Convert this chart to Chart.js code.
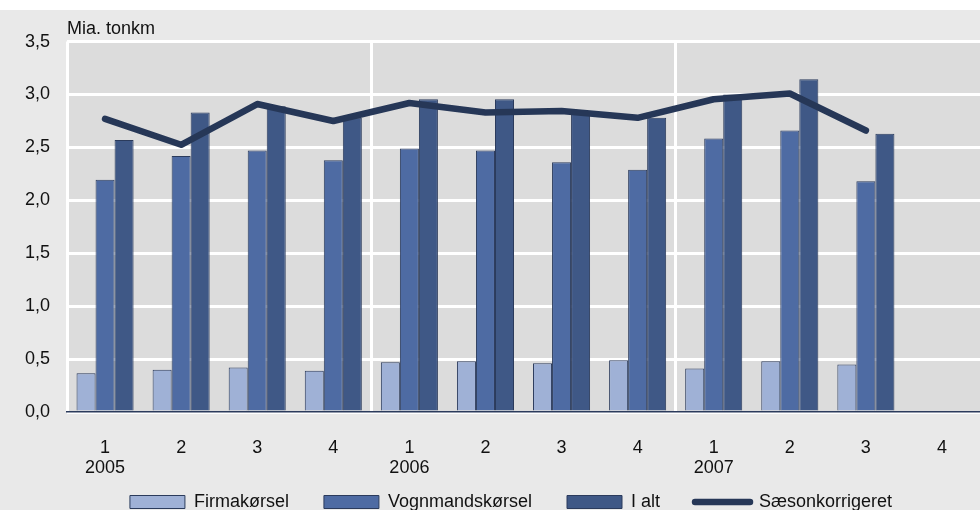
<!DOCTYPE html>
<html><head><meta charset="utf-8">
<script src="https://cdn.jsdelivr.net/npm/chart.js@4"></script>
<style>
html,body{margin:0;padding:0;background:#fff;overflow:hidden;width:980px;height:510px}
#wrap{position:absolute;left:0;top:10px;width:980px;height:511px;background:#e9e9e9}
</style></head><body>
<div id="wrap"><canvas id="c"></canvas></div>
<script>
const quarters = [["1","2005"],"2","3","4",["1","2006"],"2","3","4",["1","2007"],"2","3","4"];
const firmakorsel = [0.365,0.40,0.42,0.39,0.47,0.48,0.46,0.49,0.41,0.48,0.45,null];
const vognmandskorsel = [2.195,2.42,2.47,2.38,2.49,2.47,2.36,2.29,2.585,2.66,2.18,null];
const iAlt = [2.57,2.83,2.89,2.78,2.955,2.955,2.82,2.78,3.0,3.145,2.63,null];
const saesonkorrigeret = [2.77,2.525,2.91,2.75,2.92,2.83,2.845,2.78,2.955,3.01,2.66,null];
const yTicks = [0,0.5,1,1.5,2,2.5,3,3.5];

const FONT = "'Liberation Sans', Arial, sans-serif";
const edge = '#2b3b5c';
const lineCol = '#263757';
const GAP = '\u00a0\u00a0\u00a0\u00a0\u00a0';

const plotBg = {
  id:'plotBg',
  beforeDraw(chart){
    const {ctx, chartArea:a} = chart;
    ctx.save(); ctx.fillStyle='#dcdcdc';
    ctx.fillRect(a.left,a.top,a.right-a.left,a.bottom-a.top);
    ctx.restore();
  }
};

new Chart(document.getElementById('c'), {
  data:{
    labels: quarters,
    datasets:[
      {type:'bar', label:'Firmakørsel', data:firmakorsel, backgroundColor:'#9fb1d6', borderColor:edge, borderWidth:1, order:1},
      {type:'bar', label:'Vognmandskørsel', data:vognmandskorsel, backgroundColor:'#4e6ba3', borderColor:edge, borderWidth:1, order:1},
      {type:'bar', label:'I alt', data:iAlt, backgroundColor:'#3f5886', borderColor:edge, borderWidth:1, order:1},
      {type:'line', label:'Sæsonkorrigeret', data:saesonkorrigeret, borderColor:lineCol, backgroundColor:lineCol, borderWidth:6.5, pointRadius:0, tension:0, borderCapStyle:'round', borderJoinStyle:'round', order:0}
    ]
  },
  options:{
    responsive:true, maintainAspectRatio:false, animation:false,
    layout:{padding:{left:8,right:0,top:0,bottom:0}},
    datasets:{bar:{barPercentage:1, categoryPercentage:0.75}},
    plugins:{
      tooltip:{enabled:false},
      title:{display:true, text:'Mia. tonkm', align:'start', fullSize:false, color:'#111',
        font:{family:FONT,size:18,weight:'normal'}, padding:{top:8,bottom:2}},
      legend:{position:'bottom', align:'center', fullSize:false,
        labels:{color:'#111', font:{family:FONT,size:18}, boxWidth:55, boxHeight:13, padding:10,
          usePointStyle:true, pointStyleWidth:55,
          sort:(a,b)=>a.datasetIndex-b.datasetIndex,
          generateLabels(chart){
            const items = Chart.defaults.plugins.legend.labels.generateLabels(chart);
            items.forEach(it=>{
              if(it.datasetIndex===3){ it.pointStyle='line'; it.lineWidth=6.5; it.lineCap='round'; it.strokeStyle=lineCol; it.fillStyle=lineCol; }
              else { it.pointStyle='rect'; it.lineWidth=1; it.strokeStyle=edge; }
              it.text = it.text + GAP;
            });
            return items;
          } }
      }
    },
    scales:{
      x:{offset:true,
        afterFit(s){ s.height = 71; },
        grid:{offset:true, drawTicks:false, lineWidth:3, color:(c)=> (c.index%4===0 ? '#ffffff' : 'rgba(0,0,0,0)')},
        border:{display:true, color:edge, width:1.5},
        ticks:{color:'#111', font:{family:FONT,size:18, lineHeight:1.1}, padding:26, maxRotation:0, autoSkip:false}
      },
      y:{min:0,max:3.5,
        afterBuildTicks(s){ s.ticks = yTicks.map(v=>({value:v})); },
        grid:{color:'#ffffff', lineWidth:3, drawTicks:false},
        border:{display:false},
        ticks:{color:'#111', font:{family:FONT,size:18}, padding:17,
          callback:(v)=>Number(v).toFixed(1).replace('.',',')}
      }
    }
  },
  plugins:[plotBg]
});
</script>
</body></html>
